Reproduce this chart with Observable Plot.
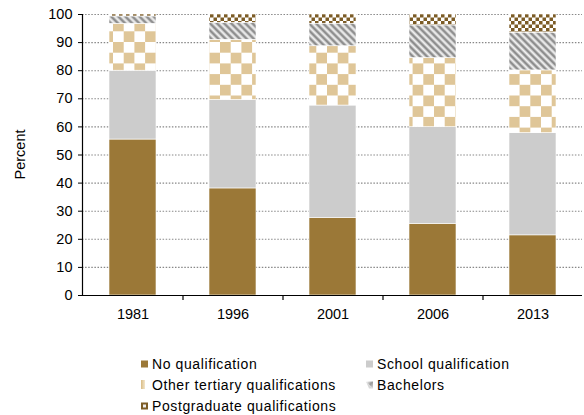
<!DOCTYPE html>
<html><head><meta charset="utf-8">
<script src="https://cdn.jsdelivr.net/npm/d3@7"></script>
<script src="https://cdn.jsdelivr.net/npm/@observablehq/plot@0.6"></script>
<style>
body{margin:0;background:#fff;font-family:"Liberation Sans",Arial,sans-serif;color:#000;}
#wrap{position:relative;width:584px;height:415px;overflow:hidden;}
#chart svg{display:block;}
#legend{position:absolute;left:141px;top:353px;display:grid;grid-template-columns:225px auto;grid-auto-rows:21px;font-size:14px;letter-spacing:0.6px;}
.item{display:flex;align-items:center;white-space:nowrap;}
.item svg{margin-right:4px;flex:none;}
</style></head><body>
<div id="wrap"><div id="chart"></div><div id="legend"></div></div>
<script>
const years = ["1981", "1996", "2001", "2006", "2013"];
const series = ["No qualification", "School qualification", "Other tertiary qualifications", "Bachelors", "Postgraduate qualifications"];
const noQualification = [55.5, 38.1, 27.6, 25.5, 21.4];
const schoolQualification = [24.5, 31.5, 40.0, 34.4, 36.4];
const otherTertiary = [16.7, 21.4, 21.1, 24.6, 22.3];
const bachelors = [2.6, 6.0, 8.0, 11.6, 13.4];
const postgraduate = [0.7, 3.0, 3.3, 3.9, 6.5];
const yTicks = [0, 10, 20, 30, 40, 50, 60, 70, 80, 90, 100];

const seriesValues = [noQualification, schoolQualification, otherTertiary, bachelors, postgraduate];
const data = [];
series.forEach((s, si) => years.forEach((yr, yi) => data.push({year: yr, series: s, value: seriesValues[si][yi]})));

const fills = ["#9b7837", "#cccccc", "url(#pOther)", "url(#pBach)", "url(#pPost)"];

const chart = Plot.plot({
  width: 584,
  height: 330,
  marginTop: 14,
  marginBottom: 35,
  marginLeft: 82,
  marginRight: 2,
  style: {fontFamily: "'Liberation Sans', Arial, sans-serif", fontSize: "14.5px", color: "#000", background: "#fff"},
  x: {domain: years, paddingInner: 0.53, paddingOuter: 0.265, label: null},
  y: {domain: [0, 100], label: null},
  color: {type: "ordinal", domain: series, range: fills},
  marks: [
    Plot.ruleY(yTicks.slice(1), {stroke: "#888", strokeWidth: 1.1, strokeDasharray: "1.5,1.6"}),
    Plot.barY(data, {x: "year", y: "value", fill: "series", stroke: "#fff", strokeWidth: 0.6}),
    Plot.ruleY([0], {stroke: "#000", strokeWidth: 1.2}),
    Plot.frame({anchor: "left", stroke: "#000", strokeWidth: 1.2}),
    Plot.ruleX(years.slice(1), {x: d => d, dx: -50, y1: 0, y2: 0, insetBottom: -5, stroke: "#000", strokeWidth: 1.2}),
    Plot.axisY({ticks: yTicks, tickSize: 4, tickPadding: 6, fontSize: 14.5, label: null, stroke: "#000"}),
    Plot.axisX({tickSize: 0, tickPadding: 13, fontSize: 14.5, label: null})
  ]
});
document.getElementById("chart").appendChild(chart);

// patterns
const svg = d3.select(chart);
const defs = svg.insert("defs", ":first-child");
const tan = "#dfc698";
const pO = defs.append("pattern").attr("id", "pOther").attr("patternUnits", "userSpaceOnUse").attr("width", 21.4).attr("height", 21.4).attr("x", 6).attr("y", -0.8);
pO.append("rect").attr("width", 21.4).attr("height", 21.4).attr("fill", "#fff");
pO.append("rect").attr("width", 10.7).attr("height", 10.7).attr("fill", tan);
pO.append("rect").attr("x", 10.7).attr("y", 10.7).attr("width", 10.7).attr("height", 10.7).attr("fill", tan);
const pB = defs.append("pattern").attr("id", "pBach").attr("patternUnits", "userSpaceOnUse").attr("width", 5).attr("height", 5).attr("patternTransform", "rotate(-45)");
pB.append("rect").attr("width", 5).attr("height", 5).attr("fill", "#f2f2f2");
pB.append("rect").attr("x", 0.4).attr("width", 3.2).attr("height", 5).attr("fill", "#b5b5b5");
pB.append("rect").attr("x", 1.1).attr("width", 1.8).attr("height", 5).attr("fill", "#8a8a8a");
const pP = defs.append("pattern").attr("id", "pPost").attr("patternUnits", "userSpaceOnUse").attr("width", 7).attr("height", 7);
pP.append("rect").attr("width", 7).attr("height", 7).attr("fill", "#fff");
pP.append("rect").attr("width", 3.5).attr("height", 3.5).attr("fill", "#7c5c26");
pP.append("rect").attr("x", 3.5).attr("y", 3.5).attr("width", 3.5).attr("height", 3.5).attr("fill", "#7c5c26");

// Percent label
svg.append("text").attr("transform", "translate(25,154.5) rotate(-90)").attr("text-anchor", "middle")
  .attr("font-size", 14.5).attr("fill", "#000").text("Percent");

// legend
const swatches = [
  '<svg width="7" height="8"><rect y="0.5" width="7" height="7" fill="#9b7837"/></svg>',
  '<svg width="7" height="8"><rect y="0.5" width="7" height="7" fill="#cccccc"/></svg>',
  '<svg width="7" height="9"><defs><linearGradient id="lg1"><stop offset="0" stop-color="#d9bc85"/><stop offset="1" stop-color="#f3e6cc"/></linearGradient></defs><rect x="0" width="4" height="9" fill="url(#lg1)"/></svg>',
  '<svg width="7" height="8"><defs><linearGradient id="lg2" x1="0" y1="0" x2="1" y2="1"><stop offset="0" stop-color="#fff"/><stop offset="0.5" stop-color="#9a9a9a"/><stop offset="1" stop-color="#ddd"/></linearGradient></defs><path d="M0,0.5 L7,0.5 L7,7.5 Z" fill="url(#lg2)"/><path d="M0,0.5 L7,7.5 L3,7.5 Z" fill="#d8d8d8"/></svg>',
  '<svg width="7" height="8"><rect y="0.5" width="7" height="7" fill="#7c5c26"/><rect x="2" y="2.5" width="3" height="3" fill="#eee"/></svg>'
];
const legend = document.getElementById("legend");
series.forEach((s, i) => {
  const div = document.createElement("div");
  div.className = "item";
  div.innerHTML = swatches[i] + '<span>' + s + '</span>';
  legend.appendChild(div);
});
</script>
</body></html>
